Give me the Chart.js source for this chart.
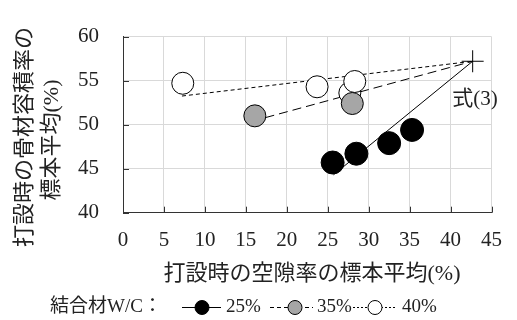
<!DOCTYPE html>
<html>
<head>
<meta charset="utf-8">
<script src="https://cdn.jsdelivr.net/npm/chart.js@4.4.0/dist/chart.umd.js"></script>
<style>
  html, body { margin: 0; padding: 0; background: #fff; }
  #wrap { width: 517px; height: 320px; position: relative; }
</style>
</head>
<body>
<div id="wrap"><canvas id="voidChart"></canvas></div>
<script>
// values
const wc25X = [25.6, 28.5, 32.5, 35.3];
const wc25Y = [45.7, 46.7, 47.9, 49.4];
const wc35X = [16.1, 28.0];
const wc35Y = [51.0, 52.4];
const wc40X = [7.3, 23.7, 27.7, 28.3];
const wc40Y = [54.7, 54.3, 53.6, 54.9];

// fitted lines (start -> common point of eq.(3))
const fit25X = [25.7, 42.7];
const fit25Y = [44.3, 57.2];
const fit35X = [17.4, 42.7];
const fit35Y = [50.8, 57.2];
const fit40X = [7.2, 42.7];
const fit40Y = [53.25, 57.2];
const crossX = [42.7];
const crossY = [57.2];

const xTicks = [0, 5, 10, 15, 20, 25, 30, 35, 40, 45];
const yTicks = [40, 45, 50, 55, 60];
const legendLabels = ['25%', '35%', '40%'];

const toPts = (xs, ys) => xs.map((x, i) => ({ x: x, y: ys[i] }));

const FONT = "'Liberation Serif', 'Noto Sans CJK JP', serif";

// titles, inner ticks, note and legend
const extrasPlugin = {
    id: 'extras',
    afterDraw(chart) {
        const ctx = chart.ctx;
        const xs = chart.scales.x, ys = chart.scales.y;
        ctx.save();

        // short inner ticks
        ctx.strokeStyle = '#333';
        ctx.lineWidth = 1;
        xTicks.forEach(v => {
            const px = Math.round(xs.getPixelForValue(v)) + 0.5;
            ctx.beginPath();
            ctx.moveTo(px, ys.bottom);
            ctx.lineTo(px, ys.bottom - 6);
            ctx.stroke();
        });
        yTicks.forEach(v => {
            const py = Math.round(ys.getPixelForValue(v)) + 0.5;
            ctx.beginPath();
            ctx.moveTo(xs.left, py);
            ctx.lineTo(xs.left + 6, py);
            ctx.stroke();
        });

        ctx.fillStyle = '#222';
        // x title
        ctx.font = '22px ' + FONT;
        ctx.textAlign = 'center';
        ctx.textBaseline = 'middle';
        ctx.fillText('打設時の空隙率の標本平均(%)', 312, 274);

        // y title (two lines, rotated)
        ctx.save();
        ctx.translate(25, 137);
        ctx.rotate(-Math.PI / 2);
        ctx.fillText('打設時の骨材容積率の', 0, 0);
        ctx.restore();
        ctx.save();
        ctx.translate(52, 140);
        ctx.rotate(-Math.PI / 2);
        ctx.fillText('標本平均(%)', 0, 0);
        ctx.restore();

        // note 式(3)
        ctx.font = '21px ' + FONT;
        ctx.textAlign = 'left';
        ctx.fillText('式(3)', xs.getPixelForValue(40.2), ys.getPixelForValue(52.9));

        // legend
        ctx.font = '19px ' + FONT;
        ctx.fillText('結合材W/C：', 50, 307);
        const items = [
            { x1: 182, x2: 221, cx: 202, tx: 226, fill: '#000', dash: [] },
            { x1: 270, x2: 313, cx: 295, tx: 317, fill: '#a6a6a6', dash: [4, 3] },
            { x1: 353, x2: 397, cx: 375, tx: 402, fill: '#fff', dash: [2, 2] }
        ];
        items.forEach((it, i) => {
            ctx.strokeStyle = '#000';
            ctx.setLineDash(it.dash);
            ctx.beginPath();
            ctx.moveTo(it.x1, 307.5);
            ctx.lineTo(it.x2, 307.5);
            ctx.stroke();
            ctx.setLineDash([]);
            ctx.beginPath();
            ctx.arc(it.cx, 307.5, 7, 0, Math.PI * 2);
            ctx.fillStyle = it.fill;
            ctx.fill();
            ctx.stroke();
            ctx.fillStyle = '#222';
            ctx.fillText(legendLabels[i], it.tx, 307);
        });
        ctx.restore();
    }
};

const ctx = document.getElementById('voidChart');
new Chart(ctx, {
    type: 'scatter',
    data: {
        datasets: [
            { label: '25%', data: toPts(wc25X, wc25Y), pointRadius: 11.5, pointBackgroundColor: '#000',
              pointBorderColor: '#000', pointBorderWidth: 1, showLine: false },
            { label: '35%', data: toPts(wc35X, wc35Y), pointRadius: 11, pointBackgroundColor: '#a6a6a6',
              pointBorderColor: '#000', pointBorderWidth: 1, showLine: false },
            { label: '40%', data: toPts(wc40X, wc40Y), pointRadius: 11, pointBackgroundColor: '#fff',
              pointBorderColor: '#000', pointBorderWidth: 1, showLine: false },
            { label: 'cross', data: toPts(crossX, crossY), pointStyle: 'cross', pointRadius: 11,
              pointBorderColor: '#000', pointBorderWidth: 1, showLine: false },
            { label: 'fit25', data: toPts(fit25X, fit25Y), showLine: true, pointRadius: 0,
              borderColor: '#000', borderWidth: 1 },
            { label: 'fit35', data: toPts(fit35X, fit35Y), showLine: true, pointRadius: 0,
              borderColor: '#000', borderWidth: 1, borderDash: [9, 5] },
            { label: 'fit40', data: toPts(fit40X, fit40Y), showLine: true, pointRadius: 0,
              borderColor: '#000', borderWidth: 1, borderDash: [4, 3] }
        ]
    },
    options: {
        responsive: true,
        maintainAspectRatio: false,
        animation: false,
        layout: { padding: { top: 15, right: 14.3, left: 0, bottom: 0 } },
        plugins: {
            legend: { display: false },
            tooltip: { enabled: false }
        },
        scales: {
            x: {
                type: 'linear',
                min: 0,
                max: 45,
                afterBuildTicks: s => { s.ticks = xTicks.map(v => ({ value: v })); },
                afterFit: s => { s.height = 107.3; },
                grid: { color: '#d9d9d9', drawTicks: false },
                border: { color: '#333', width: 1 },
                ticks: { padding: 15, color: '#222', font: { family: FONT, size: 21 } }
            },
            y: {
                type: 'linear',
                min: 40,
                max: 60,
                afterBuildTicks: s => { s.ticks = yTicks.map(v => ({ value: v })); },
                afterFit: s => { s.width = 123; },
                grid: { color: '#d9d9d9', drawTicks: false },
                border: { color: '#333', width: 1 },
                ticks: { padding: 24, color: '#222', font: { family: FONT, size: 21 } }
            }
        }
    },
    plugins: [extrasPlugin]
});
</script>
</body>
</html>
